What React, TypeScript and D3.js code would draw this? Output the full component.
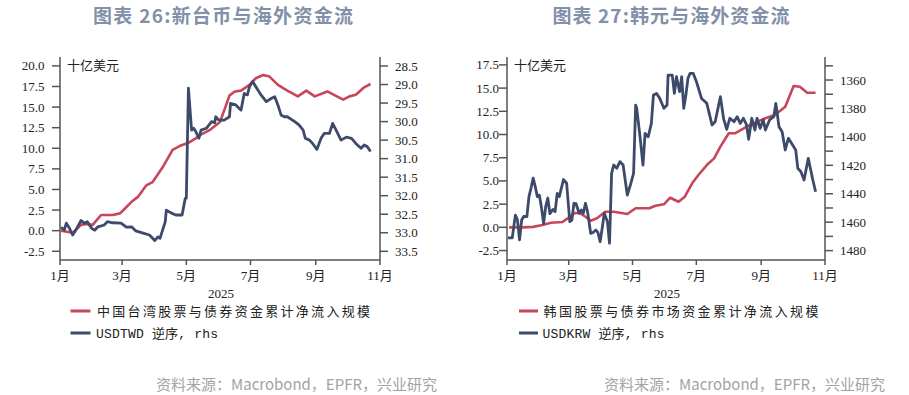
import React from "react";
import * as d3 from "d3";

// ---------- DATA ----------
const MONTH_LABEL_SUFFIX = "月";
const YEAR_LABEL = "2025";
const UNIT_LABEL = "十亿美元";
const SOURCE_TEXT = "资料来源：Macrobond，EPFR，兴业研究";

const TW_TITLE = "图表 26:新台币与海外资金流";
const TW_FLOW_LABEL = "中国台湾股票与债券资金累计净流入规模";
const TW_FX_LABEL = "USDTWD 逆序, rhs";
const TW_LEFT_TICKS = [-2.5, 0, 2.5, 5, 7.5, 10, 12.5, 15, 17.5, 20];
const TW_RIGHT_TICKS = [28.5, 29, 29.5, 30, 30.5, 31, 31.5, 32, 32.5, 33, 33.5];

const TW_FLOW_DATES = ["01-02","01-13","01-21","01-26","02-01","02-09","02-20","02-27","03-03","03-10","03-16","03-24","03-30","04-09","04-18","04-25","05-02","05-10","05-14","05-23","06-02","06-06","06-11","06-16","06-22","06-30","07-06","07-13","07-19","07-27","08-05","08-15","08-23","08-31","09-12","09-27","10-03","10-09","10-17","10-23"];
const TW_FLOW_VALUES = [0.0,-0.25,0.7,0.8,0.7,1.9,1.9,2.1,2.6,3.5,4.1,5.5,5.9,7.8,9.8,10.3,10.6,11.2,11.6,12.2,13.2,14.6,16.4,16.9,17.0,17.7,18.5,18.9,18.7,17.7,17.0,16.3,17.0,16.3,16.9,15.9,16.3,16.5,17.4,17.8];

const TW_FX_DATES = ["01-02","01-05","01-07","01-10","01-13","01-16","01-21","01-24","01-27","01-31","02-03","02-06","02-12","02-15","02-20","02-28","03-05","03-10","03-14","03-21","03-27","04-01","04-04","04-06","04-09","04-11","04-12","04-17","04-21","04-27","04-30","05-01","05-03","05-06","05-08","05-10","05-13","05-15","05-20","05-25","05-28","05-29","06-01","06-06","06-11","06-12","06-17","06-20","06-22","06-25","06-28","06-30","07-03","07-08","07-11","07-16","07-21","07-24","07-27","07-30","08-02","08-05","08-12","08-16","08-20","08-22","08-26","08-29","09-02","09-06","09-09","09-14","09-17","09-21","09-25","09-30","10-05","10-09","10-14","10-17","10-20","10-23"];
const TW_FX_VALUES = [32.85,32.93,32.74,32.88,33.06,32.93,32.67,32.74,32.70,32.88,32.93,32.84,32.79,32.70,32.73,32.74,32.85,32.84,32.95,33.01,33.06,33.21,33.11,33.15,32.88,32.70,32.39,32.47,32.52,32.52,32.07,32.07,29.10,30.23,30.18,30.27,30.45,30.23,30.18,30.00,30.03,29.87,29.96,29.96,29.87,29.51,29.55,29.64,29.69,29.24,29.28,29.06,28.92,29.15,29.28,29.46,29.37,29.33,29.55,29.82,29.87,29.87,30.00,30.09,30.23,30.45,30.50,30.59,30.75,30.45,30.32,30.32,30.05,30.27,30.50,30.42,30.45,30.59,30.72,30.63,30.68,30.81];

const KR_TITLE = "图表 27:韩元与海外资金流";
const KR_FLOW_LABEL = "韩国股票与债券市场资金累计净流入规模";
const KR_FX_LABEL = "USDKRW 逆序, rhs";
const KR_LEFT_TICKS = [-2.5, 0, 2.5, 5, 7.5, 10, 12.5, 15, 17.5];
const KR_RIGHT_MINOR = [1350,1360,1370,1380,1390,1400,1410,1420,1430,1440,1450,1460,1470,1480];
const KR_RIGHT_TICKS = [1360, 1380, 1400, 1420, 1440, 1460, 1480];

const KR_FLOW_DATES = ["01-03","01-16","01-26","02-04","02-12","02-23","02-28","03-06","03-11","03-17","03-22","03-28","04-05","04-13","04-26","05-04","05-17","05-23","05-31","06-06","06-14","06-20","06-27","07-03","07-11","07-18","07-24","08-01","08-07","08-17","08-26","09-05","09-14","09-24","10-02","10-08","10-15","10-23"];
const KR_FLOW_VALUES = [0.0,0.0,0.05,0.25,0.5,0.57,0.97,1.5,1.57,1.14,0.71,0.97,1.68,1.68,1.43,2.05,2.05,2.33,2.48,3.19,2.76,3.30,4.74,5.64,6.71,7.43,8.69,10.13,10.13,10.78,11.27,11.75,12.1,13.0,15.23,15.15,14.5,14.5];

const KR_FX_DATES = ["01-02","01-06","01-09","01-11","01-13","01-15","01-17","01-20","01-22","01-24","01-26","01-28","01-30","02-01","02-03","02-05","02-07","02-09","02-11","02-14","02-16","02-18","02-20","02-22","02-24","02-27","03-02","03-04","03-06","03-08","03-11","03-13","03-15","03-17","03-19","03-22","03-24","03-27","03-29","03-31","04-02","04-04","04-07","04-09","04-11","04-13","04-16","04-19","04-22","04-26","04-29","05-02","05-04","05-05","05-08","05-11","05-13","05-16","05-19","05-21","05-24","05-27","05-31","06-03","06-04","06-08","06-10","06-12","06-15","06-17","06-19","06-21","06-23","06-25","06-28","07-01","07-06","07-11","07-16","07-19","07-24","07-27","07-30","08-02","08-06","08-09","08-12","08-15","08-18","08-20","08-23","08-26","08-28","08-31","09-03","09-05","09-09","09-13","09-15","09-18","09-21","09-24","09-27","09-30","10-04","10-06","10-09","10-12","10-16","10-18","10-20","10-23"];
const KR_FX_VALUES = [1471,1471,1455,1458.5,1472.5,1458.5,1456,1456,1442,1436,1429,1435,1442,1441,1450,1461,1449,1443,1454,1451,1452.6,1439.7,1442,1436,1430,1432.6,1459.6,1458.5,1446.7,1447,1453.7,1451.4,1453.7,1446.7,1452.6,1467.8,1467.4,1465.5,1467.4,1473.7,1464.3,1453.7,1459.6,1474.8,1425.6,1419.8,1422,1417.4,1419.8,1440.9,1433.8,1425.6,1377.6,1379.9,1398.7,1419.8,1397.5,1399.9,1390.5,1370.5,1369.4,1372.9,1379.9,1377.6,1356.5,1356.5,1369.4,1357.7,1368.2,1357.7,1379.9,1370.5,1358.8,1355.3,1355.3,1361,1373,1376.4,1391.6,1389.3,1371.7,1386.9,1394.7,1386.9,1389.3,1385.8,1390.5,1386.9,1391.6,1401.7,1386.9,1395.2,1386.9,1394,1388.1,1395.2,1388.1,1385.8,1376.4,1392.8,1396.4,1409.2,1401,1404.5,1409.2,1422.1,1424.5,1430.3,1415.1,1422.1,1429.1,1438.6];

// ---------- STYLE ----------
const RED = "#c8455a";
const BLUE = "#3d4a6a";
const AXIS = "#555555";
const TEXT = "#222222";
const TITLE_COLOR = "#8290a8";
const SOURCE_COLOR = "#a3a3a3";
const SERIF = "'Liberation Serif', 'Noto Sans CJK SC', serif";
const CJK = "'Noto Sans CJK SC', sans-serif";
const MONO = "'Liberation Mono', 'Noto Sans CJK SC', monospace";

const parse = d3.timeParse("%Y-%m-%d");
const toDate = (s: string) => parse("2025-" + s) as Date;

type PanelProps = {
  axisLeft: number; axisRight: number; top: number; bottom: number;
  leftDomain: [number, number]; rightDomain: [number, number];
  leftTicks: number[]; leftFmt: (v: number) => string; leftLabelGap: number;
  rightTicks: number[]; rightMinor: number[]; rightFmt: (v: number) => string;
  flowDates: string[]; flowValues: number[]; fxDates: string[]; fxValues: number[];
  title: string; titleX: number; titleLen: number;
  flowLabel: string; fxLabel: string; flowLabelLen: number; fxLabelLen: number;
  legendLineX: number; legendLineLen: number; legendTextX: number;
  yearX: number; sourceEnd: number;
};

function Panel(p: PanelProps) {
  const x = d3.scaleTime().domain([new Date(2025, 0, 1), new Date(2025, 10, 1)]).range([p.axisLeft, p.axisRight]);
  const yL = d3.scaleLinear().domain(p.leftDomain).range([p.bottom, p.top]);
  const yR = d3.scaleLinear().domain(p.rightDomain).range([p.top, p.bottom]);
  const flowDates = p.flowDates.map(toDate);
  const fxDates = p.fxDates.map(toDate);
  const flowPath = d3.line<number>().x((_, i) => x(flowDates[i])).y((v) => yL(v))(p.flowValues) || "";
  const fxPath = d3.line<number>().x((_, i) => x(fxDates[i])).y((v) => yR(v))(p.fxValues) || "";
  const monthTicks = x.ticks(d3.timeMonth.every(2) as d3.TimeInterval);
  const fmtMonth = d3.timeFormat("%-m");
  const minor = p.rightMinor.length ? p.rightMinor : p.rightTicks;

  return (
    <g>
      <text x={p.titleX - p.titleLen / 2} y={23} fontFamily={CJK} fontWeight="bold" fontSize={19} fill={TITLE_COLOR} textLength={p.titleLen} lengthAdjust="spacing">{p.title}</text>

      {/* series */}
      <path d={flowPath} fill="none" stroke={RED} strokeWidth={2.6} strokeLinejoin="round" />
      <path d={fxPath} fill="none" stroke={BLUE} strokeWidth={2.8} strokeLinejoin="round" />

      {/* axes */}
      <line x1={p.axisLeft} x2={p.axisLeft} y1={p.top} y2={p.bottom} stroke={AXIS} strokeWidth={1.5} />
      <line x1={p.axisRight} x2={p.axisRight} y1={p.top} y2={p.bottom} stroke={AXIS} strokeWidth={1.5} />
      <line x1={p.axisLeft} x2={p.axisRight} y1={p.bottom} y2={p.bottom} stroke={AXIS} strokeWidth={1.5} />

      {p.leftTicks.map((t) => (
        <g key={"l" + t}>
          <line x1={p.axisLeft - 8} x2={p.axisLeft} y1={yL(t)} y2={yL(t)} stroke={AXIS} strokeWidth={1.5} />
          <text x={p.axisLeft - p.leftLabelGap} y={yL(t)} dy="0.35em" textAnchor="end" fontFamily={SERIF} fontSize={13} fill={TEXT}>{p.leftFmt(t)}</text>
        </g>
      ))}
      {minor.map((t) => (
        <line key={"rm" + t} x1={p.axisRight} x2={p.axisRight + 8} y1={yR(t)} y2={yR(t)} stroke={AXIS} strokeWidth={1.5} />
      ))}
      {p.rightTicks.map((t) => (
        <text key={"r" + t} x={p.axisRight + 15} y={yR(t)} dy="0.35em" textAnchor="start" fontFamily={SERIF} fontSize={13} fill={TEXT}>{p.rightFmt(t)}</text>
      ))}
      {monthTicks.map((t) => (
        <g key={"m" + t.getTime()}>
          <line x1={x(t)} x2={x(t)} y1={p.bottom} y2={p.bottom + 5} stroke={AXIS} strokeWidth={1.5} />
          <text x={x(t)} y={280} textAnchor="middle" fontFamily={SERIF} fontSize={13} fill={TEXT}>{fmtMonth(t) + MONTH_LABEL_SUFFIX}</text>
        </g>
      ))}
      <text x={p.axisLeft + 7} y={70} fontFamily={CJK} fontSize={13} fill={TEXT}>{UNIT_LABEL}</text>
      <text x={p.yearX} y={298} textAnchor="middle" fontFamily={SERIF} fontSize={13} fill={TEXT}>{YEAR_LABEL}</text>

      {/* legend */}
      <line x1={p.legendLineX} x2={p.legendLineX + p.legendLineLen} y1={311} y2={311} stroke={RED} strokeWidth={3} />
      <text x={p.legendTextX} y={316} fontFamily={MONO} fontSize={13} fill={TEXT} textLength={p.flowLabelLen} lengthAdjust="spacing">{p.flowLabel}</text>
      <line x1={p.legendLineX} x2={p.legendLineX + p.legendLineLen} y1={333} y2={333} stroke={BLUE} strokeWidth={3} />
      <text x={p.legendTextX - 1} y={338} fontFamily={MONO} fontSize={13} fill={TEXT} textLength={p.fxLabelLen} lengthAdjust="spacing">{p.fxLabel}</text>

      <text x={p.sourceEnd} y={390} textAnchor="end" fontFamily={CJK} fontSize={15} fill={SOURCE_COLOR}>{SOURCE_TEXT}</text>
    </g>
  );
}

const fmt1 = (v: number) => v.toFixed(1);
const fmt0 = (v: number) => String(v);

export default function App() {
  return (
    <svg width={909} height={395} style={{ position: "absolute", left: 0, top: 0, background: "#fff" }}>
      <rect x={0} y={0} width={909} height={395} fill="#fff" />
      <Panel
        axisLeft={60} axisRight={380} top={57} bottom={260}
        leftDomain={[-3.56, 21.08]} rightDomain={[28.257, 33.735]}
        leftTicks={TW_LEFT_TICKS} leftFmt={fmt1} leftLabelGap={15.5}
        rightTicks={TW_RIGHT_TICKS} rightMinor={[]} rightFmt={fmt1}
        flowDates={TW_FLOW_DATES} flowValues={TW_FLOW_VALUES}
        fxDates={TW_FX_DATES} fxValues={TW_FX_VALUES}
        title={TW_TITLE} titleX={223} titleLen={260}
        flowLabel={TW_FLOW_LABEL} fxLabel={TW_FX_LABEL} flowLabelLen={273} fxLabelLen={122}
        legendLineX={70.5} legendLineLen={20} legendTextX={97}
        yearX={221} sourceEnd={437}
      />
      <Panel
        axisLeft={507} axisRight={825} top={57} bottom={260}
        leftDomain={[-3.52, 18.35]} rightDomain={[1343.8, 1486.6]}
        leftTicks={KR_LEFT_TICKS} leftFmt={fmt1} leftLabelGap={8}
        rightTicks={KR_RIGHT_TICKS} rightMinor={KR_RIGHT_MINOR} rightFmt={fmt0}
        flowDates={KR_FLOW_DATES} flowValues={KR_FLOW_VALUES}
        fxDates={KR_FX_DATES} fxValues={KR_FX_VALUES}
        title={KR_TITLE} titleX={671} titleLen={237}
        flowLabel={KR_FLOW_LABEL} fxLabel={KR_FX_LABEL} flowLabelLen={275} fxLabelLen={122}
        legendLineX={519} legendLineLen={19} legendTextX={543.5}
        yearX={667} sourceEnd={885}
      />
    </svg>
  );
}
